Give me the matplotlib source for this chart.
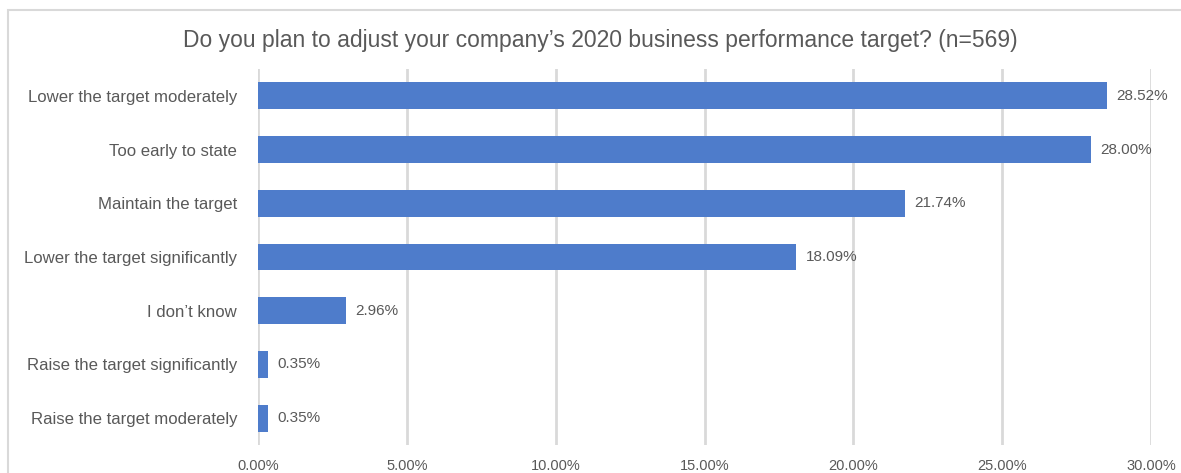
"""Horizontal bar chart: 2020 business performance target adjustment survey."""

import matplotlib

matplotlib.use("Agg")
import matplotlib.pyplot as plt
from matplotlib.patches import Rectangle
from matplotlib.ticker import FuncFormatter

plt.rcParams["font.family"] = ["Liberation Sans", "DejaVu Sans"]

TITLE = "Do you plan to adjust your company\u2019s 2020 business performance target? (n=569)"

categories = [
    "Lower the target moderately",
    "Too early to state",
    "Maintain the target",
    "Lower the target significantly",
    "I don\u2019t know",
    "Raise the target significantly",
    "Raise the target moderately",
]
shares = [28.52, 28.00, 21.74, 18.09, 2.96, 0.35, 0.35]
x_ticks = [0, 5, 10, 15, 20, 25, 30]

_BAR = "#4e7ccb"
_GRID = "#d9d9d9"
_TEXT = "#595959"

W, H = 1181, 473
fig = plt.figure(figsize=(W / 100, H / 100), dpi=100)

# moldura cinza clara (cortada à direita e embaixo no original)
fig.patches.append(
    Rectangle((8 / W, -0.1), 1.2, 1.1 - 10 / H, transform=fig.transFigure,
              facecolor="none", edgecolor=_GRID, linewidth=1.5)
)

ax = fig.add_axes((258 / W, 1 - 445 / H, (1151 - 258) / W, (445 - 69) / H))
ypos = list(range(len(categories)))
ax.barh(ypos, shares, height=0.5, color=_BAR, zorder=3)
ax.set_ylim(len(categories) - 0.5, -0.5)
ax.set_xlim(0, 30)

ax.set_xticks(x_ticks)
ax.xaxis.set_major_formatter(FuncFormatter(lambda v, _: f"{v:.2f}%"))
ax.set_yticks(ypos)
ax.set_yticklabels(categories)
ax.tick_params(axis="both", length=0, labelcolor=_TEXT)
ax.tick_params(axis="x", pad=10, labelsize=10.5)
ax.tick_params(axis="y", pad=15, labelsize=12.1)
ax.grid(axis="x", color=_GRID, linewidth=2, zorder=0)
for s in ax.spines.values():
    s.set_visible(False)

for y, v in zip(ypos, shares):
    ax.annotate(f"{v:.2f}%", (v, y), xytext=(6.5, 0), textcoords="offset points",
                ha="left", va="center", fontsize=11, color=_TEXT)

fig.text(0.5 * (181 + 1020) / W, 1 - 40 / H, TITLE, ha="center", va="center",
         fontsize=16.5, color=_TEXT)

fig.savefig("out.png", dpi=100)
